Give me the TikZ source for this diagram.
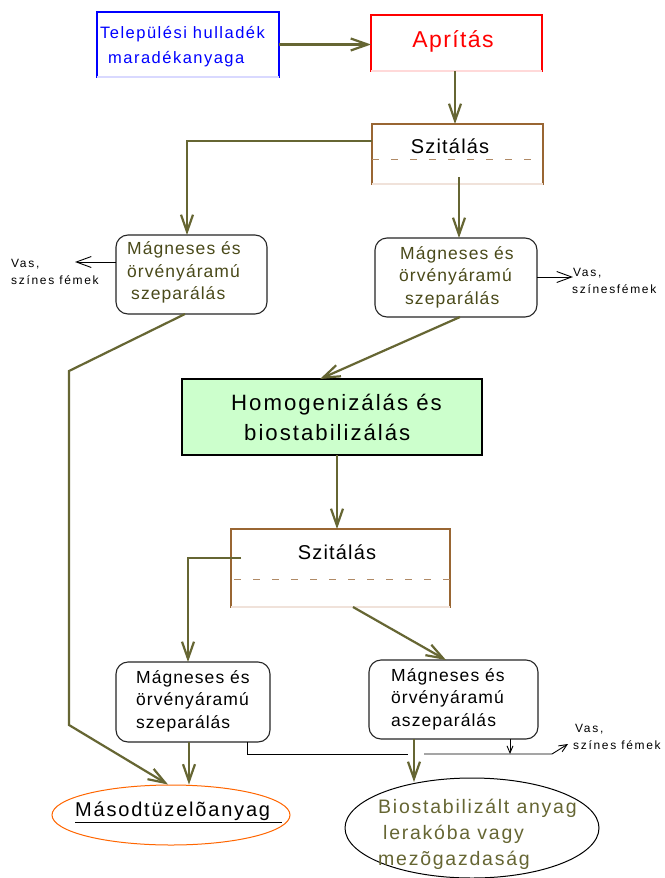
\documentclass[tikz,border=0pt]{standalone}
\usepackage{fontspec}
\setmainfont{Liberation Sans}[LetterSpace=6]
\newfontfamily\widefont{Liberation Sans}[LetterSpace=9]
\newfontfamily\smallwide{Liberation Sans}[LetterSpace=14]
\usetikzlibrary{arrows.meta,shapes.geometric,calc}
\definecolor{olivec}{HTML}{666633}
\definecolor{olivetext}{HTML}{4A4A1A}
\definecolor{brownb}{HTML}{996633}
\definecolor{dashb}{HTML}{B08A66}
\definecolor{paleb}{HTML}{F0E2DA}
\definecolor{greenf}{HTML}{CCFFCC}
\definecolor{orangeb}{HTML}{FF6600}
\tikzset{
  box/.style={draw, inner sep=0pt, outer sep=0pt, line width=1.3pt},
  sepbox/.style={draw=black!85, rounded corners=12pt, inner sep=0pt, outer sep=0pt, line width=1.1pt},
  txt/.style={inner sep=0pt, anchor=west, align=left},
  sepfont/.style={font=\fontsize{17.5}{22.5}\selectfont},
  smallfont/.style={font=\smallwide\fontsize{12}{17}\selectfont},
  oarrow/.style={draw=olivec, line width=2.2pt, -{Straight Barb[length=17pt,width=12pt]}},
  tarrow/.style={draw=black, line width=0.9pt, -{Straight Barb[length=15pt,width=11pt]}},
  sarrow/.style={draw=black, line width=0.9pt, -{Straight Barb[length=7pt,width=6pt]}},
  tline/.style={draw=black, line width=0.9pt},
}
\begin{document}
\begin{tikzpicture}[x=1pt,y=-1pt]
\useasboundingbox[fill=white] (0,0) rectangle (664,878);

% top boxes
\node[box, draw=blue, minimum width=182, minimum height=65] (tele) at (188,44.5) {};
\draw[blue!15, line width=1.3pt] (tele.south west) -- (tele.south east);
\node[txt, text=blue, font=\widefont\fontsize{16.5}{25}\selectfont] (telet) at (100,46.5) {Települési hulladék\\\hspace*{8pt}maradékanyaga};

\node[box, draw=red, minimum width=171, minimum height=56] (apr) at (456.5,43) {};
\draw[red!15, line width=1.3pt] (apr.south west) -- (apr.south east);
\node[inner sep=0pt, text=red, font=\fontsize{23}{27}\selectfont] (aprt) at (453,41) {Aprítás};

% Szitálás 1
\node[box, draw=brownb, minimum width=171, minimum height=60] (szit1) at (457.5,154) {};
\draw[paleb, line width=1.3pt] (szit1.south west) -- (szit1.south east);
\draw[dashb, line width=1pt, dash pattern=on 7pt off 12pt] (szit1.west |- 0,159) -- (szit1.east |- 0,159);
\node[inner sep=0pt, font=\fontsize{20}{24}\selectfont] (sz1t) at (450,146) {Szitálás};

% separators row 1
\node[sepbox, minimum width=151, minimum height=79] (sep1l) at (191.5,274.5) {};
\node[txt, sepfont, text=olivetext] (sep1lt) at (127,272.5) {Mágneses és\\örvényáramú\\\hspace*{4pt}szeparálás};
\node[sepbox, minimum width=162, minimum height=79] (sep1r) at (456,277.5) {};
\node[txt, sepfont, text=olivetext] (sep1rt) at (399,277) {\hspace*{1pt}Mágneses és\\örvényáramú\\\hspace*{6pt}szeparálás};

% homogenization
\node[box, draw=black, fill=greenf, minimum width=300, minimum height=76] (hom) at (332,417) {};
\node[txt, font=\widefont\fontsize{22.2}{30}\selectfont] (homt) at (231,417) {Homogenizálás és\\\hspace*{13pt}biostabilizálás};

% Szitálás 2
\node[box, draw=brownb, minimum width=219, minimum height=78] (szit2) at (340.5,568) {};
\draw[paleb, line width=1.3pt] (szit2.south west) -- (szit2.south east);
\draw[dashb, line width=1pt, dash pattern=on 7pt off 12pt] (234,579) -- (szit2.east |- 0,579);
\node[inner sep=0pt, font=\fontsize{20}{24}\selectfont] (sz2t) at (337,552) {Szitálás};

% separators row 2
\node[sepbox, minimum width=154, minimum height=80] (sep2l) at (193,702) {};
\node[txt, sepfont] (sep2lt) at (136,701) {Mágneses és\\örvényáramú\\szeparálás};
\node[sepbox, minimum width=169, minimum height=79] (sep2r) at (453.5,699.5) {};
\node[txt, sepfont] (sep2rt) at (391,699) {Mágneses és\\örvényáramú\\aszeparálás};

% ellipses
\node[ellipse, draw=orangeb, line width=1pt, minimum width=238, minimum height=60, inner sep=0pt] (ell1) at (171,815) {};
\node[txt, font=\widefont\fontsize{20}{24}\selectfont] (ell1t) at (75,812) {\underline{Másodtüzelõanyag\hspace*{12pt}}};
\node[ellipse, draw=black, line width=1pt, minimum width=254, minimum height=100, inner sep=0pt] (ell2) at (472,828) {};
\node[txt, text=olivec, font=\widefont\fontsize{19.5}{26}\selectfont] (ell2t) at (378,834) {Biostabilizált anyag\\\hspace*{5pt}lerakóba vagy\\mezõgazdaság};

% side labels
\node[txt, smallfont] (vas1) at (11,271.5) {Vas,\\színes fémek};
\node[txt, smallfont] (vas2) at (572,280.5) {\hspace*{1pt}Vas,\\színesfémek};
\node[txt, smallfont] (vas3) at (573,736.5) {\hspace*{2pt}Vas,\\színes fémek};

% coordinates
\coordinate (c1) at (459,177);
\coordinate (c2) at (241,558);
\coordinate (c3) at (414,782);
\coordinate (c4) at (568,744);

% olive connectors
\draw[oarrow] (tele.east) -- (apr.west |- tele.east);
\draw[oarrow] (apr.south -| 455,0) -- (szit1.north -| 455,0);
\draw[oarrow] (szit1.west |- 0,141) -- (187,141) -- (sep1l.north -| 187,0);
\draw[oarrow] (c1) -- (sep1r.north -| 459,0);
\draw[oarrow] (sep1l.south -| 185,0) -- (69,371) -- (69,725) -- (ell1.north -| 168,0);
\draw[oarrow] (sep1r.south -| 460,0) -- (hom.north -| 320,0);
\draw[oarrow] (hom.south -| 337,0) -- (szit2.north -| 337,0);
\draw[oarrow] (c2) -- (188,558) -- (sep2l.north -| 188,0);
\draw[oarrow] (szit2.south -| 353,0) -- (sep2r.north -| 446,0);
\draw[oarrow] (sep2l.south -| 189,0) -- (ell1.north -| 189,0);
\draw[oarrow] (sep2r.south -| 414,0) -- (c3);

% thin black connectors
\draw[tarrow] (sep1l.west |- 0,262) -- (75,262);
\draw[tarrow] (sep1r.east |- 0,277) -- (573,277);
\draw[tline] (sep2l.south -| 247,0) -- (247,754) -- (408,754);
\draw[tline, -{Straight Barb[length=8pt,width=7pt]}] (424,754) -- (552,754) -- (c4);
\draw[sarrow] (sep2r.south -| 510,0) -- (510,754);
\end{tikzpicture}
\end{document}
